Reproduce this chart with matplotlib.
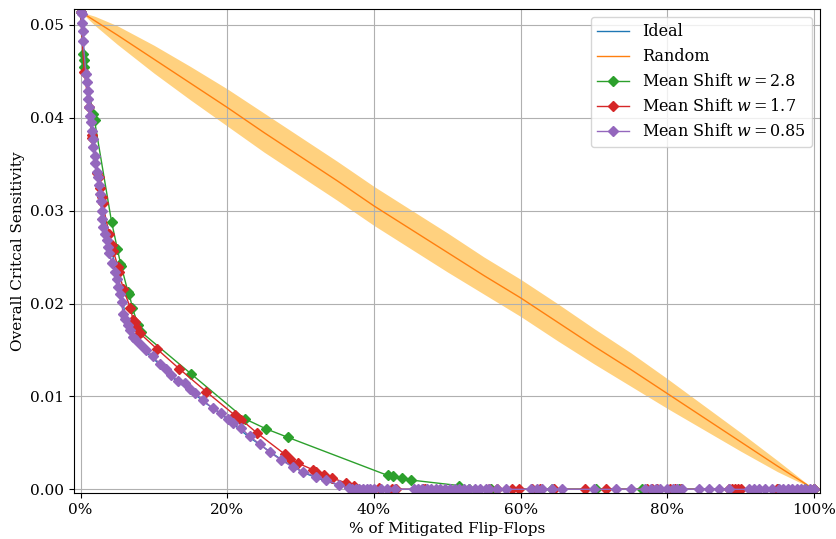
import matplotlib
matplotlib.use("Agg")
import matplotlib.pyplot as plt
from matplotlib.ticker import PercentFormatter

plt.rcParams['font.family'] = ['DejaVu Serif']
plt.rcParams['mathtext.fontset'] = 'dejavuserif'

# ideal curve (mostly hidden under the w=0.85 markers)
ideal_x = [0.0, 0.003, 0.008, 0.015, 0.022, 0.030, 0.040, 0.050, 0.057, 0.062, 0.068,
           0.080, 0.100, 0.115, 0.130, 0.150, 0.170, 0.190, 0.210, 0.230, 0.250,
           0.270, 0.290, 0.310, 0.330, 0.350, 0.370, 0.380, 1.0]
ideal_y = [0.0514, 0.0485, 0.0440, 0.0390, 0.0342, 0.0300, 0.0262, 0.0234, 0.0205, 0.0182, 0.0166,
           0.0154, 0.0140, 0.0129, 0.0117, 0.0106, 0.0093, 0.0082, 0.0069, 0.0056, 0.0045,
           0.0034, 0.0024, 0.0016, 0.0010, 0.0005, 0.0001, 0.0, 0.0]

# random selection: mean and spread
rand_x = [0.0, 0.02, 0.05, 0.10, 0.15, 0.20, 0.25, 0.30, 0.35, 0.40, 0.45, 0.50,
          0.55, 0.60, 0.65, 0.70, 0.75, 0.80, 0.85, 0.90, 0.95, 1.0]
rand_mean = [0.0514, 0.0504, 0.0489, 0.0463, 0.0437, 0.0411, 0.0384, 0.0358, 0.0332, 0.0305, 0.0280, 0.0255,
             0.0230, 0.0206, 0.0180, 0.0154, 0.0129, 0.0103, 0.0077, 0.0051, 0.0025, 0.0]
rand_std = [0.0, 0.0005, 0.0010, 0.0015, 0.0018, 0.0020, 0.0021, 0.0021, 0.0021, 0.0021, 0.0021, 0.0021,
            0.0020, 0.0020, 0.0020, 0.0019, 0.0018, 0.0016, 0.0013, 0.0010, 0.0006, 0.0]

# mean shift w = 2.8
ms28_x = [0.0, 0.0038, 0.0045, 0.0050, 0.0171, 0.0190, 0.0422, 0.0501, 0.0544, 0.0555,
          0.0648, 0.0664, 0.0707, 0.0784, 0.0830, 0.1510, 0.2235, 0.2531, 0.2824,
          0.4185, 0.4259, 0.4376, 0.4501, 0.5160, 0.530, 0.560, 0.643, 0.703, 0.766,
          0.816, 0.951, 0.987, 1.0]
ms28_y = [0.0514, 0.0469, 0.0462, 0.0455, 0.0404, 0.0397, 0.0288, 0.0259, 0.0243, 0.0240,
          0.0212, 0.0210, 0.0195, 0.0177, 0.0169, 0.0124, 0.0076, 0.0065, 0.0056,
          0.0015, 0.0014, 0.0012, 0.0010, 0.0004, 0.0, 0.0, 0.0, 0.0, 0.0,
          0.0, 0.0, 0.0, 0.0]

# mean shift w = 1.7
ms17_x = [0.0, 0.0049, 0.0117, 0.0150, 0.0160, 0.0226, 0.0245, 0.0263, 0.0286, 0.0299,
          0.0389, 0.0422, 0.0444, 0.0512, 0.0525, 0.0580, 0.0680, 0.0716, 0.0739, 0.0762,
          0.0807, 0.1042, 0.1341, 0.1714, 0.2099, 0.2190, 0.2399, 0.2780, 0.2852, 0.2966,
          0.3170, 0.3211, 0.3317, 0.3433, 0.3614, 0.3732, 0.4072, 0.425, 0.430, 0.467,
          0.470, 0.557, 0.567, 0.588, 0.598, 0.616, 0.626, 0.645, 0.687, 0.716, 0.772,
          0.779, 0.786, 0.803, 0.811, 0.819, 0.884, 0.888, 0.892, 0.896, 0.900, 0.950, 1.0]
ms17_y = [0.0514, 0.0449, 0.0411, 0.0381, 0.0378, 0.0340, 0.0336, 0.0324, 0.0315, 0.0308,
          0.0275, 0.0263, 0.0257, 0.0239, 0.0234, 0.0216, 0.0195, 0.0182, 0.0180, 0.0175,
          0.0168, 0.0151, 0.0130, 0.0105, 0.0080, 0.0075, 0.0061, 0.0038, 0.0033, 0.0028,
          0.0021, 0.0019, 0.0015, 0.0012, 0.0007, 0.0004, 0.0001, 0.0, 0.0, 0.0,
          0.0, 0.0, 0.0, 0.0, 0.0, 0.0, 0.0, 0.0, 0.0, 0.0, 0.0,
          0.0, 0.0, 0.0, 0.0, 0.0, 0.0, 0.0, 0.0, 0.0, 0.0, 0.0, 0.0]

# mean shift w = 0.85: descending part, then the points that sit at zero
ms085_x = [0.0, 0.0018, 0.0022, 0.0027, 0.0035, 0.0072, 0.0082, 0.0095, 0.0103, 0.0117,
           0.0127, 0.0144, 0.0154, 0.0163, 0.0171, 0.0190, 0.0199, 0.0218, 0.0235, 0.0249,
           0.0263, 0.0272, 0.0286, 0.0297, 0.0307, 0.0331, 0.0354, 0.0371, 0.0389, 0.0426,
           0.0467, 0.0490, 0.0512, 0.0535, 0.0558, 0.0580, 0.0603, 0.0648, 0.0671, 0.0716,
           0.0762, 0.0820, 0.0898, 0.0988, 0.1079, 0.1170, 0.1238, 0.1328, 0.1419, 0.1487,
           0.1555, 0.1668, 0.1804, 0.1918, 0.2008, 0.2076, 0.2190, 0.2303, 0.2439, 0.2576,
           0.2735, 0.2893, 0.3029, 0.3211, 0.3347, 0.3528, 0.3664]
ms085_y = [0.0514, 0.0512, 0.0502, 0.0493, 0.0483, 0.0447, 0.0438, 0.0429, 0.0420, 0.0411,
           0.0402, 0.0395, 0.0386, 0.0377, 0.0368, 0.0359, 0.0351, 0.0342, 0.0336, 0.0328,
           0.0318, 0.0310, 0.0300, 0.0291, 0.0282, 0.0275, 0.0268, 0.0261, 0.0254, 0.0244,
           0.0234, 0.0226, 0.0218, 0.0210, 0.0202, 0.0189, 0.0183, 0.0177, 0.0171, 0.0164,
           0.0161, 0.0155, 0.0150, 0.0143, 0.0135, 0.0130, 0.0123, 0.0117, 0.0114, 0.0108,
           0.0104, 0.0096, 0.0087, 0.0082, 0.0076, 0.0071, 0.0066, 0.0057, 0.0049, 0.0040,
           0.00315, 0.0024, 0.0019, 0.00135, 0.0010, 0.00046, 0.0001]
ms085_zero_x = [0.370, 0.375, 0.380, 0.385, 0.390, 0.395, 0.400, 0.410, 0.418, 0.428,
                0.455, 0.460, 0.466, 0.472, 0.478, 0.484, 0.490, 0.497, 0.503, 0.510,
                0.516, 0.523, 0.530, 0.537, 0.545, 0.553, 0.557, 0.568, 0.580, 0.614,
                0.622, 0.629, 0.643, 0.656, 0.700, 0.730, 0.751, 0.770, 0.777, 0.785,
                0.790, 0.800, 0.807, 0.813, 0.820, 0.843, 0.856, 0.870, 0.884, 0.911,
                0.918, 0.925, 0.933, 0.942, 0.952, 0.958, 0.964, 0.970, 0.976, 0.982,
                0.988, 0.994, 1.0]

fig = plt.figure(figsize=(8.37, 5.39), dpi=100)
ax = fig.add_axes([0.0884, 0.0853, 0.8913, 0.898])

ax.plot(ideal_x, ideal_y, color='tab:blue', lw=1, label='Ideal')
ax.plot(rand_x, rand_mean, color='tab:orange', lw=1, label='Random')
lo = [m - s for m, s in zip(rand_mean, rand_std)]
hi = [m + s for m, s in zip(rand_mean, rand_std)]
ax.fill_between(rand_x, lo, hi, color='orange', alpha=0.5, lw=0)
ax.plot(ms28_x, ms28_y, color='tab:green', marker='D', ms=5.5, lw=1, label='Mean Shift $w = 2.8$')
ax.plot(ms17_x, ms17_y, color='tab:red', marker='D', ms=5.5, lw=1, label='Mean Shift $w = 1.7$')
ax.plot(ms085_x + ms085_zero_x, ms085_y + [0.0] * len(ms085_zero_x),
        color='tab:purple', marker='D', ms=5.5, lw=1, label='Mean Shift $w = 0.85$')

ax.set_xlim(-0.009, 1.008)
ax.set_ylim(-0.0004, 0.0517)
ax.xaxis.set_major_formatter(PercentFormatter(1.0, decimals=0))
ax.set_yticks([0.0, 0.01, 0.02, 0.03, 0.04, 0.05])
ax.tick_params(labelsize=11)
ax.grid(True)
ax.set_xlabel('% of Mitigated Flip-Flops', fontsize=11)
ax.set_ylabel('Overall Critcal Sensitivity', fontsize=11)
ax.legend(loc='upper right', fontsize=11.5)

fig.savefig('out.png', dpi=100)
